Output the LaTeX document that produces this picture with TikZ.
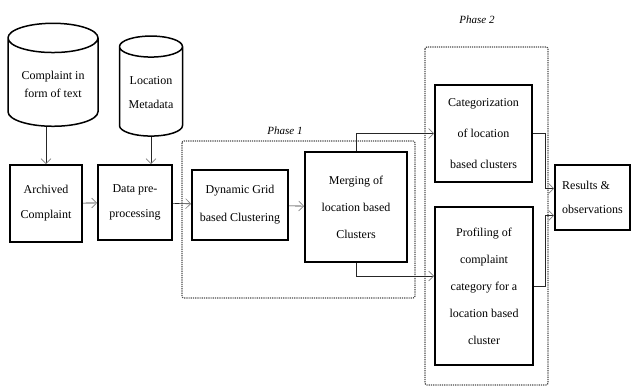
\documentclass[tikz,border=0pt]{standalone}
\usepackage{fontspec}
\setmainfont{Liberation Serif}
\usepackage{tikz}
\usetikzlibrary{shapes.geometric,arrows.meta}
\tikzstyle{procbox}=[draw=black,line width=1.9pt,inner sep=2pt,align=center,font=\fontsize{12}{26}\selectfont]
\tikzstyle{store}=[draw=black,line width=1.5pt,cylinder,shape border rotate=90,aspect=0.45,inner sep=1pt,align=center]
\tikzstyle{phasebox}=[draw=black!70,densely dotted,line width=1.2pt,rounded corners=2pt]
\tikzstyle{flow}=[draw=black!85,line width=0.6pt,-{Straight Barb[length=5pt,width=10pt,color=gray]}]

\begin{document}
\begin{tikzpicture}[x=1pt,y=-1pt]
  \useasboundingbox (0,0) rectangle (633,387);

  \draw[phasebox] (182,141) rectangle (415,298);
  \draw[phasebox] (425,47) rectangle (548,385);
  \node[font=\fontsize{11}{13}\selectfont\itshape] (ph1) at (285,131) {Phase 1};
  \node[font=\fontsize{11}{13}\selectfont\itshape] (ph2) at (477,20) {Phase 2};

  \node[store,minimum width=90pt,minimum height=103pt,font=\fontsize{12}{18}\selectfont] (text) at (53,84) {Complaint in\\form of text};
  \node[store,minimum width=63pt,minimum height=100pt,font=\fontsize{12}{24}\selectfont] (meta) at (151,93) {Location\\Metadata};

  \node[procbox,minimum width=72pt,minimum height=77pt,font=\fontsize{12}{25}\selectfont] (archived) at (46,203.5) {Archived\\Complaint};
  \node[procbox,minimum width=74pt,minimum height=75pt,font=\fontsize{12}{25}\selectfont] (data) at (135,202.5) {Data pre-\\processing};
  \node[procbox,minimum width=96pt,minimum height=70pt,font=\fontsize{12}{28}\selectfont] (grid) at (240,205) {Dynamic Grid\\based Clustering};
  \node[procbox,minimum width=102pt,minimum height=110pt,font=\fontsize{12}{27}\selectfont] (merge) at (356,207) {Merging of\\location based\\Clusters};
  \node[procbox,minimum width=97pt,minimum height=97pt,font=\fontsize{12}{31}\selectfont] (categ) at (483.5,133.5) {Categorization\\of location\\based clusters};
  \node[procbox,minimum width=98pt,minimum height=158pt,font=\fontsize{12}{27}\selectfont] (profile) at (484,286) {Profiling of\\complaint\\category for a\\location based\\cluster};
  \node[procbox,minimum width=75pt,minimum height=65pt,align=left,font=\fontsize{12}{24}\selectfont] (results) at (592.5,197.5) {Results \&\\observations};

  \draw[flow] (archived.north |- text.bottom) -- (archived.north);
  \draw[flow] (meta.bottom) -- (meta.bottom |- data.north);
  \draw[flow] (archived) -- (data);
  \draw[flow] (data) -- (grid);
  \draw[flow] (grid) -- (merge);
  \draw[flow] (merge.north) |- (categ.west);
  \draw[flow] (merge.south) |- ([yshift=10pt]profile.west);
  \draw[flow] (categ.east) -- ++(12,0) |- ([yshift=9pt]results.west);
  \draw[flow] (profile.east) -- ++(11,0) |- ([yshift=-18pt]results.west);
\end{tikzpicture}
\end{document}
